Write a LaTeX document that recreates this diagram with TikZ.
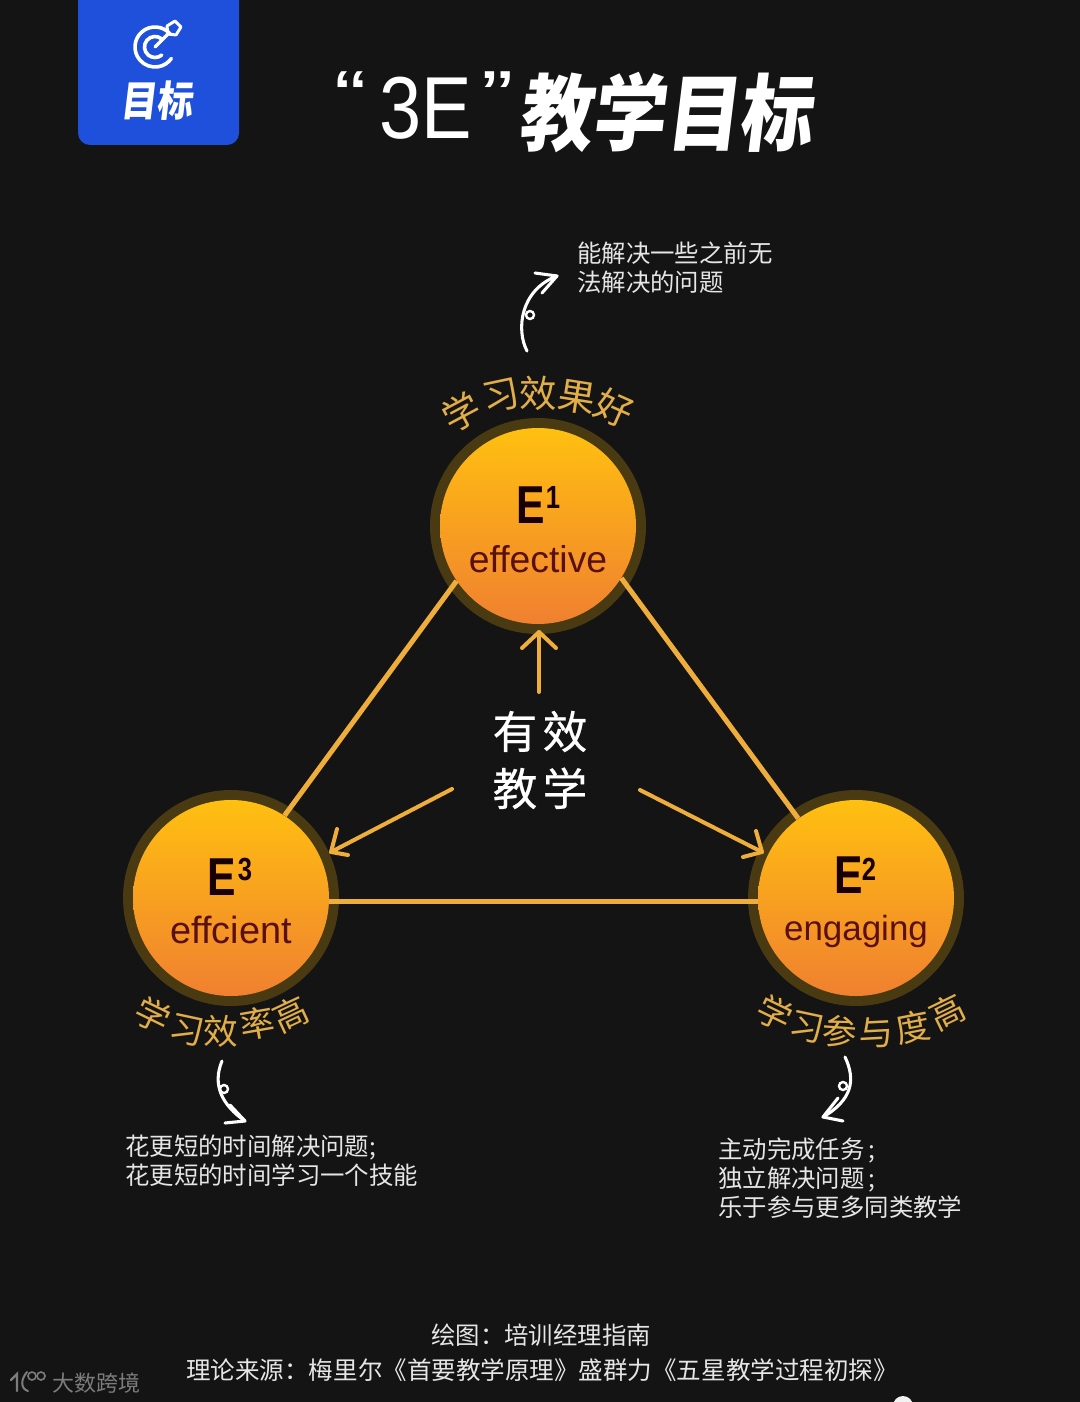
\documentclass[tikz,border=0pt]{standalone}
\usepackage{fontspec}
\newfontfamily\cjk{Noto Sans CJK SC}
\newfontfamily\cjkt[BoldFeatures={FakeSlant=0.14}]{Noto Sans CJK SC}
\newfontfamily\cjkm[FakeBold=0.5]{Noto Sans CJK SC}
\newfontfamily\lat{Liberation Sans}
\definecolor{bgc}{HTML}{141414}
\definecolor{ringc}{HTML}{4A3A12}
\definecolor{linec}{HTML}{EFAE3C}
\definecolor{labelc}{HTML}{E2AE48}
\definecolor{orbtop}{HTML}{FFC010}
\definecolor{orbmid}{HTML}{FDB01E}
\definecolor{orbbot}{HTML}{F08030}
\definecolor{darkred}{HTML}{5A1012}
\definecolor{blueb}{HTML}{1E50DC}
\definecolor{softw}{HTML}{E6E6E6}
\definecolor{wm}{HTML}{7C7C7C}
\tikzset{
  x=0.75pt,y=-0.75pt,
  ringnode/.style={circle,fill=ringc,minimum size=162pt,inner sep=0pt},
  orb/.style={circle,minimum size=147pt,inner sep=0pt,top color=orbtop,middle color=orbmid,bottom color=orbbot},
  tri/.style={draw=linec,line width=3.75pt},
  pointer/.style={draw=linec,line width=3pt,line cap=round,line join=round},
  hand/.style={draw=white,line width=2.3pt,line cap=round,line join=round},
  handloop/.style={circle,draw=white,line width=1.8pt,minimum size=6pt,inner sep=0pt},
  arcl/.style={text=labelc,font=\cjk\fontsize{28}{30}\selectfont,inner sep=0pt},
  arcs/.style={text=labelc,font=\cjk\fontsize{26}{28}\selectfont,inner sep=0pt},
  desc/.style={text=softw,font=\cjk\fontsize{18.3}{21.9}\selectfont,align=left,anchor=west,inner sep=0pt},
  foot/.style={text=softw,font=\cjk\fontsize{18.3}{22}\selectfont,anchor=west,inner sep=0pt},
  bigE/.style={text=black!90!red,font=\lat\bfseries\fontsize{40}{42}\selectfont,anchor=base,inner sep=0pt},
  supE/.style={text=black!90!red,font=\lat\bfseries\fontsize{24}{26}\selectfont,inner sep=0pt},
  word/.style={text=darkred,anchor=base,inner sep=0pt},
}
\begin{document}
\begin{tikzpicture}
\useasboundingbox (0,0) rectangle (1080,1402);
\fill[bgc] (0,0) rectangle (1080,1402);
% badge
\fill[blueb,rounded corners=9pt] (78,-20) rectangle (239,145);
\draw[white,line width=2.7pt,line cap=round] (155,47) ++(-40:20) arc[start angle=-40,end angle=-325,radius=20];
\draw[white,line width=2.7pt,line cap=round] (155,47) ++(-50:10.5) arc[start angle=-50,end angle=-310,radius=10.5];
\draw[white,line width=2.5pt,line cap=round] (155,47) -- (168,34);
\draw[white,line width=2.2pt,line join=round] (168,34) -- (167,26) -- (175,21) -- (181,27) -- (176,35) -- cycle;
\node[text=white,font=\cjkt\bfseries\fontsize{27}{29}\selectfont,inner sep=0pt] (badgetext) at (156,101) {\scalebox{1}[1.16]{目标}};
% title
\node[text=white,font=\lat\fontsize{56}{60}\selectfont,inner sep=0pt] (titleq1) at (351,96) {\scalebox{1.3}[.95]{“}};
\node[text=white,font=\lat\fontsize{66}{70}\selectfont,inner sep=0pt] (title3e) at (426,108) {\scalebox{.86}[1]{3E}};
\node[text=white,font=\lat\fontsize{56}{60}\selectfont,inner sep=0pt] (titleq2) at (498,96) {\scalebox{1.3}[.95]{”}};
\node[text=white,font=\cjkt\bfseries\fontsize{55}{60}\selectfont,inner sep=0pt] (titlecn) at (665,113) {\scalebox{1}[1.14]{教学目标}};
% orbs
\node[ringnode] (r1) at (538,526) {};
\node[ringnode] (r2) at (856,898) {};
\node[ringnode] (r3) at (231,898) {};
\node[orb] (e1) at (538,526) {};
\node[orb] (e2) at (856,898) {};
\node[orb] (e3) at (231,898) {};
% triangle
\draw[tri] (e1.214) -- (e3.57);
\draw[tri] (e1.-32) -- (e2.126);
\draw[tri] (e3.-2.6) -- (e2.182.6);
% orb text
\node[bigE] (t1) at (531,523) {\scalebox{.8}[1]{E}};
\node[supE] (s1) at (553,497) {\scalebox{.8}[1]{1}};
\node[word,font=\lat\fontsize{28}{30}\selectfont] (w1) at (538,572) {effective};
\node[bigE] (t2) at (849,893) {\scalebox{.8}[1]{E}};
\node[supE] (s2) at (869,869) {\scalebox{.8}[1]{2}};
\node[word,font=\lat\fontsize{26.2}{28}\selectfont] (w2) at (856,940) {engaging};
\node[bigE] (t3) at (222,895) {\scalebox{.8}[1]{E}};
\node[supE] (s3) at (245,869) {\scalebox{.8}[1]{3}};
\node[word,font=\lat\fontsize{28.4}{30}\selectfont] (w3) at (231,943) {effcient};
% centre
\node[text=white,font=\cjkm\fontsize{33.5}{42.75}\selectfont,align=center,inner sep=0pt] (centre) at (540,760) {有\hspace{4pt}效\\教\hspace{4pt}学};
\coordinate (p1) at (539,692);
\coordinate (p2) at (640,790);
\coordinate (p3) at (452,789);
\coordinate (q1) at (539,632);
\coordinate (q2) at (762,852);
\coordinate (q3) at (331,852);
\coordinate (b1a) at (522,648);
\coordinate (b1b) at (556,648);
\coordinate (b2a) at (756,831);
\coordinate (b2b) at (743,857);
\coordinate (b3a) at (337,829);
\coordinate (b3b) at (348,855);
\draw[pointer] (p1) -- (q1);
\draw[pointer] (b1a) -- (q1) -- (b1b);
\draw[pointer] (p2) -- (q2);
\draw[pointer] (b2a) -- (q2) -- (b2b);
\draw[pointer] (p3) -- (q3);
\draw[pointer] (b3a) -- (q3) -- (b3b);
% arc labels
\node[arcl,rotate=28] (a11) at (461,412) {学};
\node[arcl,rotate=12] (a12) at (501,396) {习};
\node[arcl] (a13) at (538,393) {效};
\node[arcl,rotate=-9] (a14) at (577,397) {果};
\node[arcl,rotate=-24] (a15) at (614,408) {好};
\node[arcs,rotate=-26] (a31) at (153,1015) {学};
\node[arcs,rotate=-12] (a32) at (187,1030) {习};
\node[arcs] (a33) at (221,1031) {效};
\node[arcs,rotate=10] (a34) at (257,1023) {率};
\node[arcs,rotate=25] (a35) at (291,1014) {高};
\node[arcs,rotate=-26] (a21) at (775,1013) {学};
\node[arcs,rotate=-12] (a22) at (807,1027) {习};
\node[arcs,rotate=-4] (a23) at (840,1032) {参};
\node[arcs,rotate=3] (a24) at (876,1033) {与};
\node[arcs,rotate=11] (a25) at (913,1027) {度};
\node[arcs,rotate=26] (a26) at (947,1012) {高};
% hand arrows
\coordinate (h1s) at (527,351);
\coordinate (h1t) at (557,276);
\coordinate (h1a) at (535,273);
\coordinate (h1b) at (542,293);
\draw[hand] (h1s) .. controls (516,330) and (520,290) .. (h1t);
\draw[hand] (h1a) -- (h1t) -- (h1b);
\node[handloop] (l1) at (530,315) {};
\coordinate (h3s) at (222,1061);
\coordinate (h3t) at (245,1121);
\coordinate (h3a) at (230,1105);
\coordinate (h3b) at (225,1123);
\draw[hand] (h3s) .. controls (212,1085) and (222,1105) .. (h3t);
\draw[hand] (h3a) -- (h3t) -- (h3b);
\node[handloop] (l3) at (224,1089) {};
\coordinate (h2s) at (845,1057);
\coordinate (h2t) at (823,1117);
\coordinate (h2a) at (838,1098);
\coordinate (h2b) at (843,1121);
\draw[hand] (h2s) .. controls (856,1080) and (852,1100) .. (h2t);
\draw[hand] (h2a) -- (h2t) -- (h2b);
\node[handloop] (l2) at (843,1086) {};
% descriptions
\node[desc] (d1) at (577,267.5) {能解决一些之前无\\法解决的问题};
\node[desc] (d3) at (125,1160.5) {花更短的时间解决问题;\\花更短的时间学习一个技能};
\node[desc] (d2) at (718,1178) {主动完成任务\,;\\独立解决问题\,;\\乐于参与更多同类教学};
% footer
\node[foot] (f1) at (431,1335.5) {绘图：培训经理指南};
\node[foot,font=\cjk\fontsize{18.4}{22}\selectfont] (f2) at (186,1370.5) {理论来源：梅里尔《首要教学原理》盛群力《五星教学过程初探》};
% watermark
\node[text=wm,font=\cjk\fontsize{16.5}{18}\selectfont,anchor=west,inner sep=0pt] (wmt) at (52,1383) {大数跨境};
\draw[wm,line width=1.8pt,line cap=round] (11,1380) -- (17,1374) -- (17,1391);
\draw[wm,line width=1.5pt,line cap=round] (27,1372) .. controls (20,1380) and (21,1389) .. (28,1391);
\node[circle,draw=wm,line width=1.2pt,minimum size=6pt,inner sep=0pt] (wm1) at (32,1376) {};
\node[circle,draw=wm,line width=1.2pt,minimum size=6pt,inner sep=0pt] (wm2) at (41,1376) {};
% corner blob
\fill[white!90!gray] (903,1406) circle[radius=10];
\end{tikzpicture}
\end{document}
